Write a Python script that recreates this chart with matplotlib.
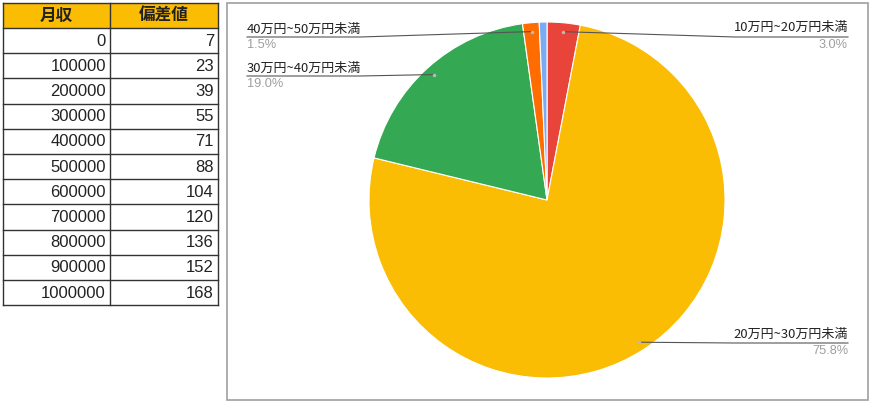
import matplotlib
matplotlib.use("Agg")
import matplotlib.pyplot as plt
from matplotlib.patches import Rectangle
import numpy as np

plt.rcParams['font.family'] = ['Liberation Sans', 'Noto Sans CJK JP', 'DejaVu Sans']

# ---- data ----
table_headers = ["月収", "偏差値"]
monthly_income = [0, 100000, 200000, 300000, 400000, 500000, 600000, 700000, 800000, 900000, 1000000]
deviation = [7, 23, 39, 55, 71, 88, 104, 120, 136, 152, 168]

pie_labels = ["10万円~20万円未満", "20万円~30万円未満", "30万円~40万円未満", "40万円~50万円未満", ""]
pie_values = [3.0, 75.8, 19.0, 1.5, 0.7]
pie_colors = ["#E8443A", "#FBBC04", "#34A853", "#FF6D01", "#7AAAF2"]

W, H = 870, 405
fig = plt.figure(figsize=(W / 100, H / 100), dpi=100)
fig.patch.set_facecolor("white")

# overlay axes in pixel coordinates
ov = fig.add_axes([0, 0, 1, 1], zorder=1)
ov.set_xlim(0, W)
ov.set_ylim(H, 0)
ov.axis("off")
ov.patch.set_alpha(0)

# ---- table ----
x0, xm, x1 = 3, 110, 218
y_top, head_h, row_h = 3, 25, 25.2
ov.add_patch(Rectangle((x0, y_top), x1 - x0, head_h, facecolor="#FBBC04", edgecolor="none"))
for j, h in enumerate(table_headers):
    hx = (x0 + xm) / 2 if j == 0 else (xm + x1) / 2
    ov.text(hx, y_top + head_h / 2 + 0.5, h, ha="center", va="center", fontsize=12,
            fontweight="bold", family=["Noto Sans CJK JP"], color="#222222")
n = len(monthly_income)
y_bottom = y_top + head_h + n * row_h
for i, (a, b) in enumerate(zip(monthly_income, deviation)):
    yc = y_top + head_h + (i + 0.5) * row_h
    ov.text(xm - 4, yc + 0.5, str(a), ha="right", va="center", fontsize=12, color="#222222")
    ov.text(x1 - 4, yc + 0.5, str(b), ha="right", va="center", fontsize=12, color="#222222")
# grid lines
for k in range(n + 2):
    y = y_top if k == 0 else y_top + head_h + (k - 1) * row_h
    ov.plot([x0, x1], [y, y], color="#333333", lw=1.0)
for x in (x0, xm, x1):
    ov.plot([x, x], [y_top, y_bottom], color="#333333", lw=1.0)

# ---- chart border ----
ov.add_patch(Rectangle((227, 3), 641, 397, facecolor="none", edgecolor="#A0A0A0", lw=1.2))

# ---- pie ----
cx, cy, R = 547, 200, 178
pax = fig.add_axes([(cx - R) / W, (H - cy - R) / H, 2 * R / W, 2 * R / H], zorder=0)
wedges, _ = pax.pie(pie_values, colors=pie_colors, startangle=90, counterclock=False,
                    radius=1, wedgeprops=dict(linewidth=0.8, edgecolor="white"))
pax.set_xlim(-1, 1)
pax.set_ylim(-1, 1)
pax.set_aspect("equal")
pax.axis("off")

fig.canvas.draw()
to_pix = lambda p: ov.transData.inverted().transform(pax.transData.transform(p))

# label layout: (name_x, name_y, ha, underline_y, underline_x_start, underline_x_end)
layout = {
    0: (848, 27, "right", 37, 735, 848),
    1: (848, 334, "right", 343, 735, 848),
    2: (247, 68, "left", 76, 247, 360),
    3: (247, 29, "left", 37, 247, 360),
}
for i, w in enumerate(wedges):
    if i not in layout:
        continue
    ang = np.deg2rad((w.theta1 + w.theta2) / 2)
    dot = to_pix((0.95 * np.cos(ang), 0.95 * np.sin(ang)))
    tx, ty, ha, uy, ux0, ux1 = layout[i]
    ov.text(tx, ty, pie_labels[i], ha=ha, va="center", fontsize=9.4, color="#222222",
            family=["Noto Sans CJK JP", "DejaVu Sans"])
    ov.text(tx, uy + 8, f"{pie_values[i]:.1f}%", ha=ha, va="center", fontsize=9.2, color="#9E9E9E")
    if ha == "right":
        pts = [dot, (ux0, uy), (ux1, uy)]
    else:
        pts = [(ux0, uy), (ux1, uy), dot]
    xs, ys = zip(*pts)
    ov.plot(xs, ys, color="#555555", lw=0.8)
    ov.plot([dot[0]], [dot[1]], marker="o", ms=2.5, color="#BBBBBB", mec="none")

fig.savefig("out.png", dpi=100, facecolor="white")
